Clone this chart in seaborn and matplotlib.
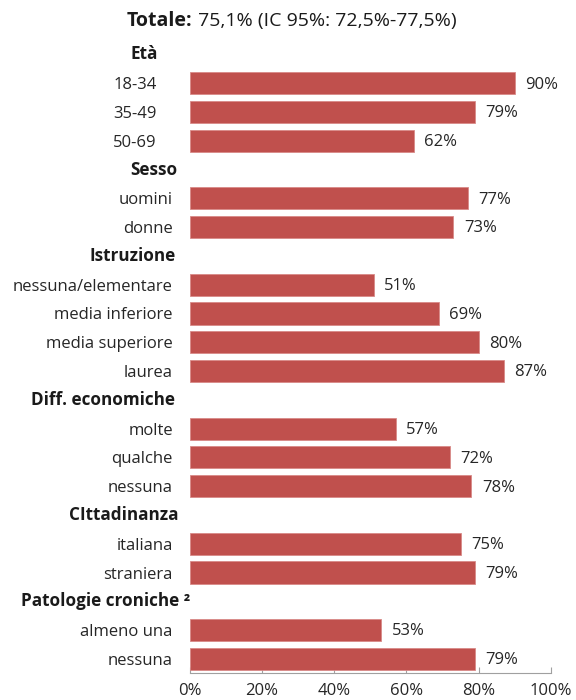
import numpy as np
import pandas as pd
import matplotlib
matplotlib.use("Agg")
import matplotlib.pyplot as plt
import matplotlib.transforms as mtransforms
import seaborn as sns

# ---- data ----
groups = ["Età", "Sesso", "Istruzione", "Diff. economiche", "CIttadinanza", "Patologie croniche ²"]
categories = [
    ["18-34", "35-49", "50-69"],
    ["uomini", "donne"],
    ["nessuna/elementare", "media inferiore", "media superiore", "laurea"],
    ["molte", "qualche", "nessuna"],
    ["italiana", "straniera"],
    ["almeno una", "nessuna"],
]
values = [
    [90, 79, 62],
    [77, 73],
    [51, 69, 80, 87],
    [57, 72, 78],
    [75, 79],
    [53, 79],
]
title_bold = "Totale:"
title_rest = " 75,1% (IC 95%: 72,5%-77,5%)"
xticks = [0, 20, 40, 60, 80, 100]
xticklabels = ["0%", "20%", "40%", "60%", "80%", "100%"]

# ---- build rows (header rows have no value) ----
rows = []
for gi, (g, cats, vals) in enumerate(zip(groups, categories, values)):
    rows.append({"key": f"h{gi}", "label": g, "value": np.nan, "header": True, "grp": gi})
    for ci, (c, v) in enumerate(zip(cats, vals)):
        rows.append({"key": f"r{gi}_{ci}", "label": c, "value": v, "header": False, "grp": gi})
df = pd.DataFrame(rows)

FONT = ["Open Sans", "DejaVu Sans"]
sns.set_theme(style="white")
plt.rcParams["font.family"] = FONT

fig = plt.figure(figsize=(5.76, 7.0), dpi=100)
X0, X1 = 189.5, 551
ax = fig.add_axes([X0 / 576, 1 - 673 / 700, (X1 - X0) / 576, (673 - 40) / 700])

bar_color = "#C0504D"
sns.barplot(data=df, x="value", y="key", order=list(df["key"]), orient="h",
            color=bar_color, saturation=1, width=0.77, ax=ax,
            edgecolor="#D88A88", linewidth=0.6)

n = len(df)
ax.set_ylim(n - 1 + 0.49, -0.5)
ax.set_xlim(0, 100)

# category labels
ax.set_yticks(range(n))
ax.set_yticklabels([("" if h else l) for l, h in zip(df["label"], df["header"])],
                   fontsize=12, color="#262626")
ax.tick_params(axis="y", length=0, pad=12)
# age-class labels sit further left in the reference
for lab, g, h in zip(ax.get_yticklabels(), df["grp"], df["header"]):
    if g == 0 and not h:
        lab.set_transform(lab.get_transform() +
                          mtransforms.ScaledTranslation(-16 / 100, 0, fig.dpi_scale_trans))

# header labels (bold), right edge in pixels
header_right_px = [158, 177, 176, 175, 179, 190]
hi = 0
for i, (l, h) in enumerate(zip(df["label"], df["header"])):
    if h:
        xr = (header_right_px[hi] - X0) / (X1 - X0)
        ax.text(xr, i, l, transform=ax.get_yaxis_transform(), ha="right", va="center",
                fontsize=12.3, fontweight="bold", color="#1a1a1a")
        hi += 1

# value labels
for i, v in enumerate(df["value"]):
    if not np.isnan(v):
        ax.annotate(f"{int(v)}%", xy=(v, i), xytext=(7.5, -1), textcoords="offset points",
                    ha="left", va="center", fontsize=12, color="#262626")

ax.set_xticks(xticks)
ax.set_xticklabels(xticklabels, fontsize=12, color="#262626")
ax.tick_params(axis="x", direction="in", length=4, width=0.8, color="#A0A0A0", pad=7, bottom=True)
ax.set_xlabel("")
ax.set_ylabel("")
for s in ["top", "right", "left"]:
    ax.spines[s].set_visible(False)
ax.spines["bottom"].set_color("#A0A0A0")
ax.spines["bottom"].set_linewidth(0.8)

# title
t1 = fig.text(127 / 576, 1 - 21 / 700, title_bold, fontsize=14, fontweight="bold",
              ha="left", va="center", color="#1a1a1a")
fig.canvas.draw()
bb = t1.get_window_extent()
fig.text(bb.x1 / fig.bbox.width, 1 - 21 / 700, title_rest, fontsize=14,
         ha="left", va="center", color="#1a1a1a")

fig.savefig("out.png", dpi=100)
